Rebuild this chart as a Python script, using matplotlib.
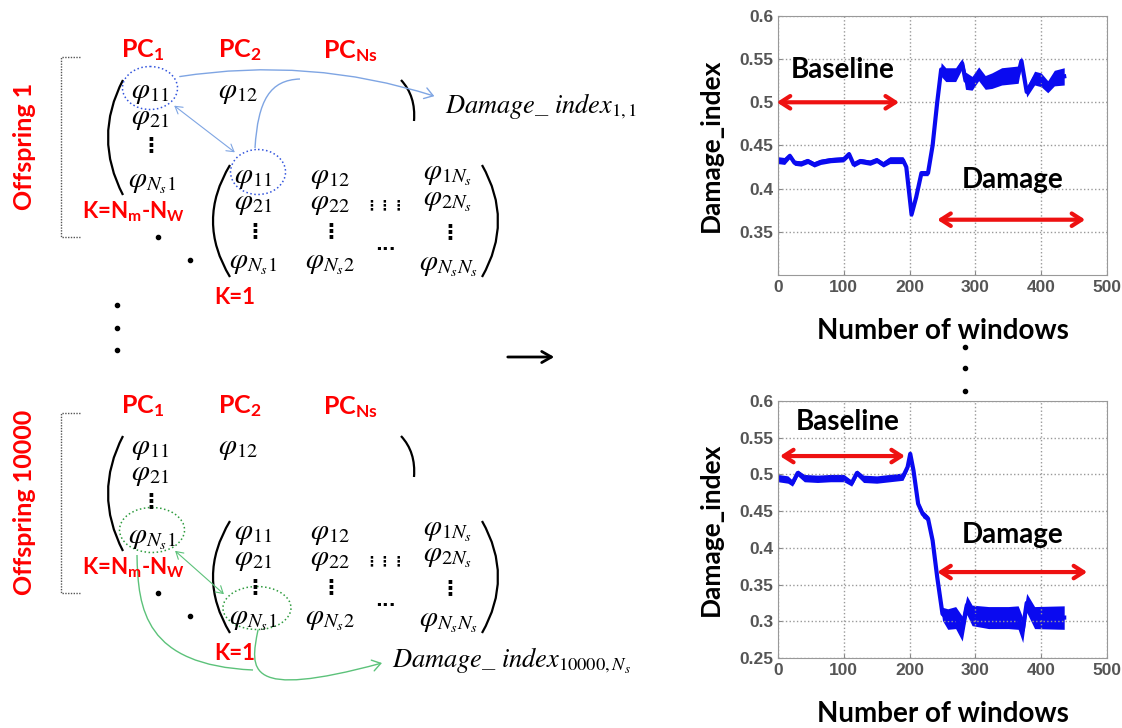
import numpy as np
import matplotlib.pyplot as plt
from matplotlib.patches import Ellipse, PathPatch, FancyArrowPatch
from matplotlib.path import Path

# -------------------------------
# DATA
# -------------------------------
win_top = [0, 10, 18, 25, 35, 45, 55, 65, 80, 100, 108, 115, 125, 140, 150, 160, 170, 190,
           195, 203, 210, 218, 228, 235, 242, 248, 255, 270, 280, 285, 295, 305, 315, 325,
           340, 365, 370, 378, 390, 400, 410, 420, 435]
mid_top = [0.433, 0.432, 0.438, 0.430, 0.429, 0.432, 0.428, 0.431, 0.433, 0.434, 0.440, 0.428,
           0.432, 0.430, 0.433, 0.428, 0.433, 0.433, 0.425, 0.370, 0.390, 0.418, 0.418, 0.450,
           0.500, 0.538, 0.532, 0.532, 0.545, 0.525, 0.522, 0.533, 0.523, 0.525, 0.530, 0.532,
           0.548, 0.512, 0.528, 0.526, 0.518, 0.528, 0.530]
half_top = [0.004, 0.004, 0.003, 0.003, 0.003, 0.003, 0.003, 0.003, 0.003, 0.003, 0.003, 0.003,
            0.003, 0.003, 0.003, 0.003, 0.004, 0.004, 0.003, 0.003, 0.003, 0.003, 0.003, 0.003,
            0.003, 0.008, 0.008, 0.008, 0.006, 0.010, 0.008, 0.008, 0.008, 0.009, 0.010, 0.010,
            0.005, 0.006, 0.008, 0.008, 0.007, 0.009, 0.010]

win_bot = [0, 15, 22, 30, 40, 60, 80, 100, 112, 120, 130, 150, 170, 190, 197, 201, 206, 213,
           220, 228, 235, 242, 250, 258, 270, 280, 287, 295, 320, 350, 365, 372, 378, 390, 435]
mid_bot = [0.495, 0.493, 0.488, 0.502, 0.495, 0.494, 0.495, 0.495, 0.488, 0.502, 0.494, 0.493,
           0.495, 0.497, 0.510, 0.528, 0.505, 0.460, 0.446, 0.440, 0.410, 0.360, 0.310, 0.303,
           0.305, 0.290, 0.322, 0.308, 0.305, 0.305, 0.305, 0.288, 0.325, 0.305, 0.305]
half_bot = [0.005, 0.005, 0.004, 0.004, 0.005, 0.005, 0.005, 0.005, 0.004, 0.004, 0.005, 0.005,
            0.005, 0.005, 0.004, 0.003, 0.003, 0.004, 0.005, 0.004, 0.004, 0.004, 0.009, 0.014,
            0.015, 0.017, 0.013, 0.014, 0.015, 0.015, 0.016, 0.017, 0.013, 0.015, 0.016]

x_ticks = [0, 100, 200, 300, 400, 500]
y_ticks_top = [0.35, 0.4, 0.45, 0.5, 0.55, 0.6]
y_ticks_bot = [0.25, 0.3, 0.35, 0.4, 0.45, 0.5, 0.55, 0.6]

RED = '#ff0000'
BLUE = '#0a0af0'
LBLUE = '#7fa5e3'
GREEN = '#5cc27a'

plt.rcParams['mathtext.fontset'] = 'custom'
plt.rcParams['mathtext.rm'] = 'Lato:bold'
plt.rcParams['mathtext.it'] = 'Lato:bold'
plt.rcParams['mathtext.bf'] = 'Lato:bold'

fig = plt.figure(figsize=(11.22, 7.28), dpi=100)

# -------------------------------
# LEFT DIAGRAM (pixel coordinates)
# -------------------------------
ax0 = fig.add_axes([0, 0, 1, 1])
ax0.set_xlim(0, 1122)
ax0.set_ylim(728, 0)
ax0.axis('off')


def red(x, y, s, size=16, **kw):
    ax0.text(x, y, s, color=RED, fontsize=size, fontfamily='Lato', fontweight='bold',
             ha='center', va='center', math_fontfamily='custom', **kw)


def phi(x, y, s, size=21):
    ax0.text(x, y, s, fontsize=size, ha='center', va='center', math_fontfamily='stix')


def vdots(x, y):
    ax0.text(x, y, '⋮', fontsize=15, ha='center', va='center', fontweight='bold')


def paren(x_end, x_ctrl, y0, y1, lw=1.6):
    verts = [(x_end, y0), (x_ctrl, (y0 + y1) / 2), (x_end, y1)]
    ax0.add_patch(PathPatch(Path(verts, [Path.MOVETO, Path.CURVE3, Path.CURVE3]),
                            fill=False, lw=lw, color='black'))


def block(dy, name, name_y):
    # offspring label, bracket, PC headers
    red(25, name_y, name, size=18, rotation=90)
    ax0.plot([80, 61, 61, 80], [57 + dy, 57 + dy, 237 + dy, 237 + dy], color='#555555',
             lw=1, ls=(0, (1, 1)))
    red(143, 50 + dy, r'PC$_{1}$', size=18)
    red(240, 50 + dy, r'PC$_{2}$', size=18)
    red(350, 51 + dy, r'PC$_{Ns}$', size=18)
    # first matrix (K = Nm - Nw)
    paren(123, 93, 80 + dy, 195 + dy)
    phi(150, 92 + dy, r'$\varphi_{11}$')
    phi(150, 118 + dy, r'$\varphi_{21}$')
    vdots(151, 145 + dy)
    phi(152, 182 + dy, r'$\varphi_{N_s1}$')
    phi(238, 92 + dy, r'$\varphi_{12}$')
    ax0.add_patch(PathPatch(Path([(401, 80 + dy), (416, 96 + dy), (414, 121 + dy)],
                                 [Path.MOVETO, Path.CURVE3, Path.CURVE3]),
                            fill=False, lw=1.6, color='black'))
    red(133, 212 + dy, r'K=N$_{m}$-N$_{W}$', size=16)
    # dots between matrices
    ax0.plot([158, 190], [237 + dy, 260 + dy], 'k.', ms=6)
    # second matrix (K = 1)
    paren(230, 196, 165 + dy, 277 + dy)
    paren(482, 514, 165 + dy, 277 + dy)
    cols = [253, 330, 448]
    phi(cols[0], 177 + dy, r'$\varphi_{11}$')
    phi(cols[1], 177 + dy, r'$\varphi_{12}$')
    phi(cols[2], 174 + dy, r'$\varphi_{1N_s}$')
    phi(cols[0], 203 + dy, r'$\varphi_{21}$')
    phi(cols[1], 203 + dy, r'$\varphi_{22}$')
    ax0.text(385, 205 + dy, '⋮⋮⋮', fontsize=10, ha='center', va='center', fontweight='bold')
    phi(cols[2], 200 + dy, r'$\varphi_{2N_s}$')
    vdots(255, 231 + dy)
    vdots(331, 231 + dy)
    vdots(450, 232 + dy)
    ax0.text(385, 245 + dy, '...', fontsize=13, ha='center', va='center', fontweight='bold')
    phi(cols[0], 263 + dy, r'$\varphi_{N_s1}$')
    phi(cols[1], 263 + dy, r'$\varphi_{N_s2}$')
    phi(cols[2], 265 + dy, r'$\varphi_{N_sN_s}$')
    red(235, 297 + dy, 'K=1', size=16)


block(0, 'Offspring 1', 146)
block(356, 'Offspring 10000', 502)

# vertical dots between offspring blocks
ax0.plot([117, 117, 117], [305, 328, 350], 'k.', ms=6)

# offspring 1 highlights
ax0.add_patch(Ellipse((150, 88), 55, 43, fill=False, ec='#3355dd', lw=1.1, ls=':'))
ax0.add_patch(Ellipse((258, 172), 55, 45, fill=False, ec='#3355dd', lw=1.1, ls=':'))
ax0.add_patch(FancyArrowPatch((177, 77), (437, 97), connectionstyle='arc3,rad=-0.12',
                              arrowstyle='->,head_length=6,head_width=4', color=LBLUE, lw=1))
ax0.add_patch(PathPatch(Path([(255, 148), (258, 100), (270, 80), (300, 79)],
                             [Path.MOVETO, Path.CURVE4, Path.CURVE4, Path.CURVE4]),
                        fill=False, color=LBLUE, lw=1))
ax0.add_patch(FancyArrowPatch((172, 104), (237, 154), arrowstyle='<->,head_length=5,head_width=3',
                              color=LBLUE, lw=0.8))
ax0.text(445, 106, r'$Damage\_\ index_{1,1}$', fontsize=19, ha='left', va='center',
         math_fontfamily='stix')

# offspring 10000 highlights
ax0.add_patch(Ellipse((152, 530), 65, 45, fill=False, ec='#2e9b3e', lw=1.1, ls=':'))
ax0.add_patch(Ellipse((257, 608), 68, 43, fill=False, ec='#2e9b3e', lw=1.1, ls=':'))
ax0.add_patch(FancyArrowPatch((173, 549), (226, 596), arrowstyle='<->,head_length=5,head_width=3',
                              color=GREEN, lw=0.8))
ax0.add_patch(PathPatch(Path([(137, 555), (138, 610), (145, 665), (253, 670)],
                             [Path.MOVETO, Path.CURVE4, Path.CURVE4, Path.CURVE4]),
                        fill=False, color=GREEN, lw=1))
green_path = Path([(258, 630), (250, 670), (245, 700), (382, 663)],
                  [Path.MOVETO, Path.CURVE4, Path.CURVE4, Path.CURVE4])
ax0.add_patch(FancyArrowPatch(path=green_path, arrowstyle='->,head_length=6,head_width=4',
                              color=GREEN, lw=1))
ax0.text(392, 660, r'$Damage\_\ index_{10000,N_s}$', fontsize=19, ha='left', va='center',
         math_fontfamily='stix')

# middle arrow and dots between plots
ax0.add_patch(FancyArrowPatch((505, 357), (557, 357), arrowstyle='->,head_length=7,head_width=4',
                              color='black', lw=2))
ax0.plot([965, 965, 965], [347, 368, 391], 'k.', ms=6)

# -------------------------------
# RIGHT PLOTS
# -------------------------------
tick_font = dict(family='Liberation Sans', weight='bold', size=12.5)


def damage_plot(rect, win, mid, half, yticks, ylim, notes):
    ax = fig.add_axes(rect)
    mid = np.array(mid)
    half = np.array(half)
    ax.fill_between(win, mid - half, mid + half, color=BLUE, lw=0)
    ax.plot(win, mid, color=BLUE, lw=3)
    ax.set_xlim(0, 500)
    ax.set_ylim(*ylim)
    ax.set_xticks(x_ticks)
    ax.set_yticks(yticks)
    ax.set_yticklabels([f'{v:g}' for v in yticks])
    for lab in ax.get_xticklabels() + ax.get_yticklabels():
        lab.set_fontproperties(tick_font)
        lab.set_color('#555555')
    ax.tick_params(direction='in', length=3, color='#888888')
    ax.grid(True, color='#999999', ls=':', lw=1)
    for sp in ax.spines.values():
        sp.set_color('#999999')
    ax.set_xlabel('Number of windows', fontfamily='Lato', fontweight='bold', fontsize=20,
                  labelpad=17)
    ax.set_ylabel('Damage_index', fontfamily='Lato', fontweight='bold', fontsize=19,
                  labelpad=12)
    for (label, tx, ty, ax0_, ax1_, ay) in notes:
        ax.text(tx, ty, label, fontfamily='Lato', fontweight='bold', fontsize=20,
                ha='center', va='center')
        ax.annotate('', xy=(ax1_, ay), xytext=(ax0_, ay), annotation_clip=False,
                    arrowprops=dict(arrowstyle='<->,head_length=0.7,head_width=0.45',
                                    color='#ee1111', lw=3, shrinkA=0, shrinkB=0))
    return ax


damage_plot([0.6934, 0.6223, 0.2932, 0.3558], win_top, mid_top, half_top,
            y_ticks_top, (0.3, 0.6),
            [('Baseline', 99, 0.5375, -2, 184, 0.5), ('Damage', 356, 0.41, 242, 467, 0.364)])
damage_plot([0.6934, 0.0962, 0.2932, 0.3530], win_bot, mid_bot, half_bot,
            y_ticks_bot, (0.25, 0.6),
            [('Baseline', 106, 0.571, 3, 193, 0.525), ('Damage', 356, 0.4175, 242, 470, 0.367)])

fig.savefig('out.png', dpi=100)
